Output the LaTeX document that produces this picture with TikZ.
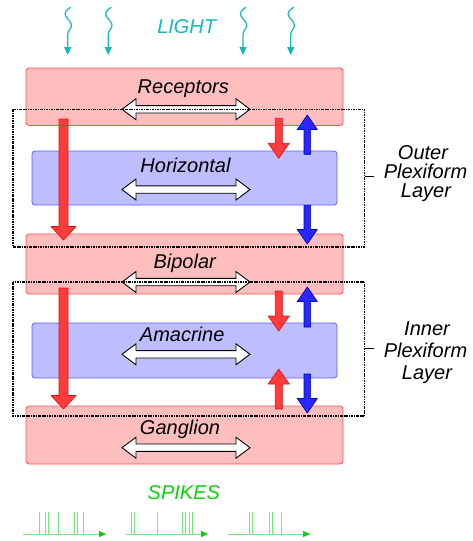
\documentclass[tikz,border=0pt]{standalone}
\usepackage{fontspec}
\setmainfont{Liberation Sans}
\usetikzlibrary{arrows.meta}
\definecolor{boxred}{RGB}{255,190,190}
\definecolor{boxredline}{RGB}{255,80,80}
\definecolor{boxblue}{RGB}{190,190,255}
\definecolor{boxblueline}{RGB}{95,95,255}
\definecolor{arrred}{RGB}{255,60,60}
\definecolor{arrredline}{RGB}{225,20,20}
\definecolor{arrblue}{RGB}{40,40,255}
\definecolor{arrblueline}{RGB}{0,0,190}
\definecolor{lightcol}{RGB}{20,185,185}
\definecolor{spikecol}{RGB}{10,210,10}
\definecolor{spikeline}{RGB}{120,230,120}
\newcommand\vblk[7]{\pgfmathsetmacro\hb{#4-#7*sign(#4-#3)}%
  \draw[#1] (#2-#5,#3) -- (#2-#5,\hb) -- (#2-#6,\hb) -- (#2,#4) -- (#2+#6,\hb) -- (#2+#5,\hb) -- (#2+#5,#3) -- cycle;}
\newcommand\hdbl[1]{%
  \draw[dblarrow] (122,#1) -- (136,#1-10.5) -- (136,#1-3.7) -- (236,#1-3.7) -- (236,#1-10.5) -- (250,#1)
   -- (236,#1+10.5) -- (236,#1+3.7) -- (136,#1+3.7) -- (136,#1+10.5) -- cycle;}
\begin{document}
\begin{tikzpicture}[x=1pt,y=-1pt,
  redbox/.style={draw=boxredline,fill=boxred,line width=0.8pt,rounded corners=3pt,inner sep=0pt},
  bluebox/.style={draw=boxblueline,fill=boxblue,line width=0.8pt,rounded corners=3pt,inner sep=0pt},
  redarr/.style={draw=arrredline,fill=arrred,line width=0.7pt,line join=round},
  bluearr/.style={draw=arrblueline,fill=arrblue,line width=0.7pt,line join=round},
  dblarrow/.style={draw=black,fill=white,line width=0.9pt,line join=miter},
  frame/.style={draw=black,line width=1.1pt,dash pattern=on 2.5pt off 1pt on 0.8pt off 1pt},
  lbl/.style={font=\fontsize{20}{20}\selectfont\itshape,inner sep=0pt,anchor=base},
  wave/.style={draw=lightcol,line width=1.2pt,-{Triangle[width=7pt,length=8pt]}},
  spk/.style={draw=spikeline,line width=1pt},
  train/.style={draw=spikeline,line width=1pt,-{Triangle[width=6pt,length=7pt,color=spikecol]}}]
\useasboundingbox (0,0) rectangle (472,541);
\clip (0,0) rectangle (472,541);
% boxes
\node[redbox,minimum width=317pt,minimum height=57.5pt] (rec) at (184.5,96.75) {};
\node[bluebox,minimum width=305pt,minimum height=54pt] (hor) at (184.5,178) {};
\node[redbox,minimum width=317pt,minimum height=60pt] (bip) at (184.5,264) {};
\node[bluebox,minimum width=305pt,minimum height=55pt] (ama) at (184.5,350.5) {};
\node[redbox,minimum width=317pt,minimum height=58pt] (gan) at (184.5,435) {};
% labels
\node[lbl] (lrec) at (183.3,93.3) {Receptors};
\node[lbl] (lhor) at (185.5,172.7) {Horizontal};
\node[lbl] (lbip) at (184.7,268.3) {Bipolar};
\node[lbl] (lama) at (182.2,341.7) {Amacrine};
\node[lbl] (lgan) at (180,434.3) {Ganglion};
\node[lbl,text=lightcol] (light) at (186.7,33.3) {LIGHT};
\node[lbl,text=spikecol] (spikes) at (183.8,499) {SPIKES};
\node[lbl] (o1) at (423,159) {Outer};
\node[lbl] (o2) at (425.5,178) {Plexiform};
\node[lbl] (o3) at (426,197) {Layer};
\node[lbl] (i1) at (427,335) {Inner};
\node[lbl] (i2) at (425.5,357.7) {Plexiform};
\node[lbl] (i3) at (427,379.3) {Layer};
% big red arrows
\vblk{redarr}{63.5}{119}{240}{4.5}{12.5}{13.5}
\vblk{redarr}{63.5}{288}{409}{4.5}{12.5}{13.5}
% small arrows
\vblk{redarr}{278.7}{118.3}{158.3}{3.6}{10.5}{15}
\vblk{bluearr}{307.3}{154.3}{115}{3.3}{10}{14.5}
\vblk{bluearr}{307.3}{205.3}{244}{3.3}{10}{14.5}
\vblk{redarr}{278.7}{291}{331}{3.6}{10.5}{15}
\vblk{bluearr}{307.3}{327}{287}{3.3}{10}{14.5}
\vblk{redarr}{278.7}{409}{369}{3.6}{10.5}{15}
\vblk{bluearr}{307.3}{374}{413}{3.3}{10}{14.5}
% double arrows
\hdbl{109.3}
\hdbl{189.5}
\hdbl{282}
\hdbl{354.3}
\hdbl{447.7}
% plexiform frames
\draw[frame] (13,109.3) rectangle (364.5,247);
\draw[frame] (13,282) rectangle (364.5,416);
\coordinate (od1) at (364.5,176.5); \coordinate (od2) at (374,176.5);
\coordinate (id1) at (364.5,348.3); \coordinate (id2) at (374,348.3);
\draw[line width=0.8pt] (od1) -- (od2);
\draw[line width=0.8pt] (id1) -- (id2);
% light
\foreach \x in {67.7,108.3,243,290.7}
  \draw[wave] plot[smooth,tension=0.8] coordinates {(\x+3,7.3) (\x-2.6,14) (\x+3.6,24.5) (\x+0.4,32) (\x,38)} -- (\x,55);
% spikes
\draw[train] (23,534) -- (106,534);
\draw[train] (125.7,534) -- (208,534);
\draw[train] (228.3,534) -- (310,534);
\foreach \s in {39,45.7,48.3,58.3,74.3,77.3,83.7,131.3,134.3,157.3,182.7,185.7,189.3,192.3,249.7,252.7,269,272,281.3}
  \draw[spk] (\s,512) -- (\s,534);
\end{tikzpicture}
\end{document}
